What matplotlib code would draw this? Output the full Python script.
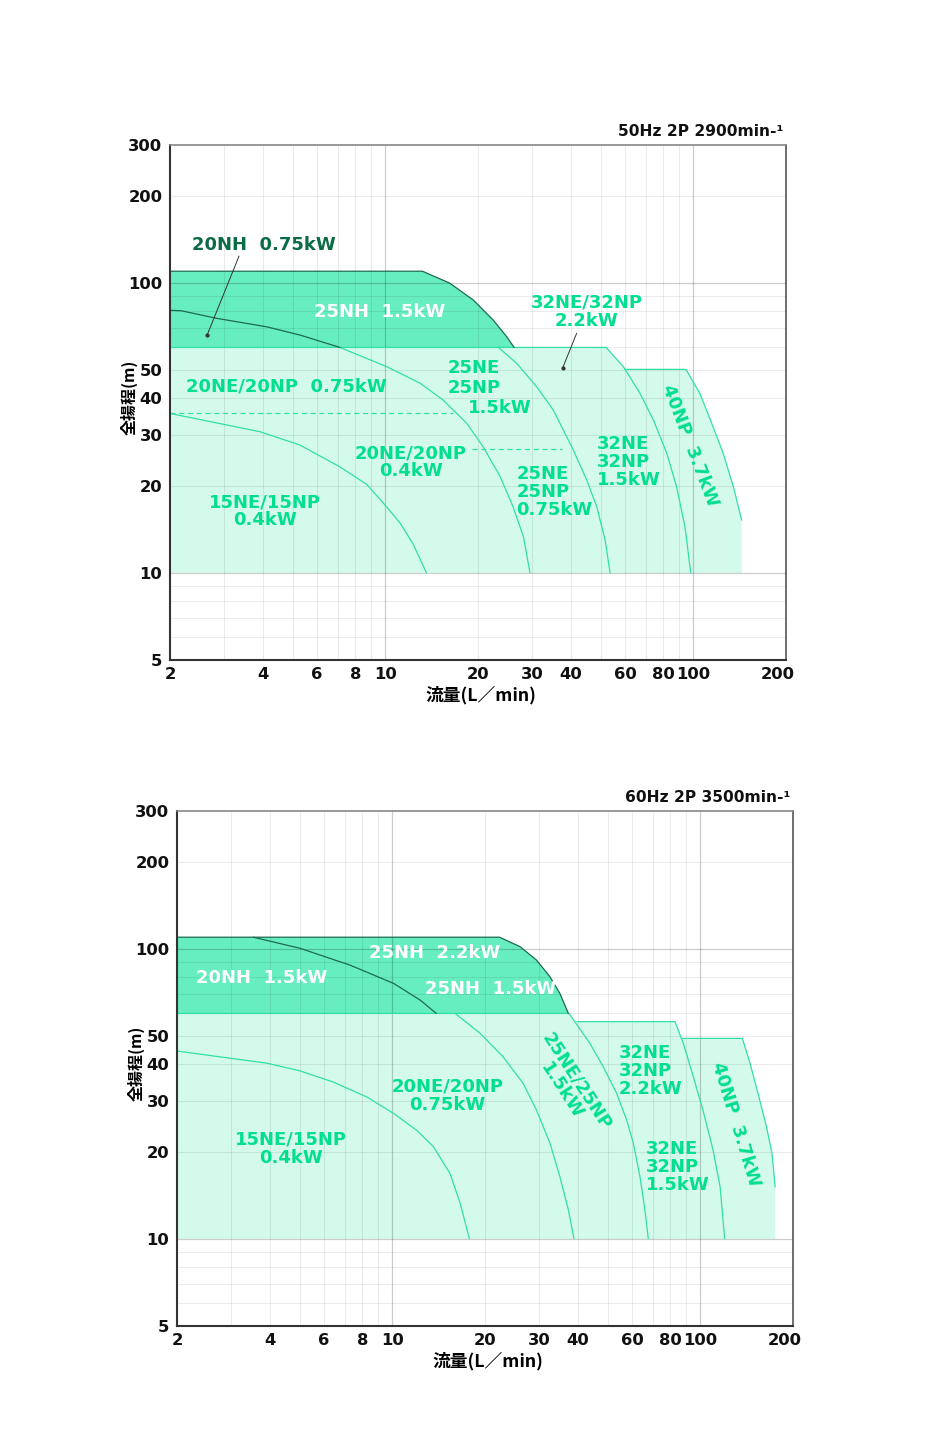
import matplotlib

matplotlib.use("Agg")
import matplotlib.pyplot as plt
import matplotlib.transforms as mtransforms
from matplotlib.patches import Polygon
from matplotlib.ticker import FixedLocator, FixedFormatter, NullLocator

plt.rcParams["font.family"] = ["DejaVu Sans"]
CJK = ["Noto Sans CJK JP", "DejaVu Sans"]

# ---------------- 50 Hz 2P 2900 min-1 ----------------
nh25_50_x = [2, 13.2, 16.2, 19.3, 22.4, 24.8, 26.2]
nh25_50_y = [110, 110, 100, 87.5, 74.6, 65.3, 60]
nh20_50_x = [2, 2.18, 2.84, 4.12, 5.29, 7.13]
nh20_50_y = [80.6, 80.3, 75.6, 70.7, 66.2, 60]
ne20_075_50_x = [7.13, 10.1, 11.2, 13.0, 15.4, 18.4, 20.8, 23.6, 26.0, 28.1, 29.5]
ne20_075_50_y = [60, 51.5, 48.8, 45.1, 39.5, 32.8, 27.2, 21.5, 16.9, 13.3, 10]
ne25_15_50_x = [23.3, 26.7, 31.0, 35.1, 38.8, 40.8, 45.1, 48.6, 51.7, 53.7]
ne25_15_50_y = [60, 52.9, 43.9, 36.5, 29.5, 26.5, 20.9, 16.9, 13.0, 10]
ne32_22_50_x = [2, 52.1, 59.3, 67.1, 74.2, 82.0, 88.3, 94.0, 98.1]
ne32_22_50_y = [60, 60, 51.5, 41.7, 33.7, 25.9, 19.8, 14.4, 10]
np40_50_x = [60.0, 94.7, 105, 116, 125, 135, 143.6]
np40_50_y = [50.4, 50.4, 41.7, 31.9, 25.9, 19.8, 15.2]
ne15_04_50_x = [2, 3.92, 5.29, 7.13, 8.70, 10.1, 11.2, 12.3, 13.6]
ne15_04_50_y = [35.5, 30.7, 27.6, 23.2, 20.2, 16.9, 14.8, 12.6, 10]
dash_50 = [((2, 16.6), 35.5), ((19.1, 37.5), 26.7)]

# ---------------- 60 Hz 2P 3500 min-1 -------------
nh25_60_x = [2, 22.3, 26.0, 29.4, 32.5, 35.0, 37.3]
nh25_60_y = [110, 110, 102, 91.7, 80.3, 70.4, 60]
nh20_60_x = [3.54, 5.02, 7.29, 10.1, 12.3, 13.9]
nh20_60_y = [110, 100.7, 88.1, 76.2, 66.8, 60]
ne20_075_60_x = [16.0, 19.3, 22.9, 26.6, 29.4, 32.5, 35.0, 37.3, 38.9]
ne20_075_60_y = [60, 51.2, 42.5, 34.4, 27.8, 21.4, 16.4, 12.6, 10]
ne25_15_60_x = [2, 37.5, 43.8, 48.4, 53.5, 57.7, 60.6, 63.7, 66.1, 67.8]
ne25_15_60_y = [60, 60, 47.3, 39.3, 31.8, 25.7, 21.4, 16.4, 12.6, 10]
ne32_22_60_x = [39.7, 82.8, 88.1, 94.9, 102, 110, 116, 120]
ne32_22_60_y = [56.2, 56.2, 47.3, 36.3, 27.8, 20.3, 15.1, 10]
np40_60_x = [87.0, 137, 145, 154, 164, 171, 175]
np40_60_y = [49.2, 49.2, 40.4, 31.8, 24.4, 19.7, 15.1]
ne15_04_60_x = [2, 3.92, 5.02, 6.42, 8.26, 10.1, 12.0, 13.6, 15.4, 16.6, 17.8]
ne15_04_60_y = [44.5, 40.4, 38.0, 34.8, 30.9, 27.1, 23.7, 20.8, 16.8, 13.3, 10]

xticks = [2, 4, 6, 8, 10, 20, 30, 40, 60, 80, 100, 200]
yticks = [5, 10, 20, 30, 40, 50, 100, 200, 300]
xgrid_minor = [3, 4, 5, 6, 7, 8, 9, 20, 30, 40, 50, 60, 70, 80, 90]
ygrid_minor = [6, 7, 8, 9, 20, 30, 40, 50, 60, 70, 80, 90, 200]
grid_major = [10, 100]

LIGHT = "#d4faeb"
MID = "#66eec0"
LINE = "#30e0a6"
TEXT = "#00df8e"
DARK = "#1e6b4e"
DARKTXT = "#0b6b45"


def region(ax, xs, ys, color, base=10):
    pts = [(xs[0], base)] + list(zip(xs, ys)) + [(xs[-1], base)]
    ax.add_patch(Polygon(pts, closed=True, facecolor=color,
                         edgecolor="none", zorder=0.2))


def setup(ax, title):
    ax.set_xscale("log")
    ax.set_yscale("log")
    ax.set_xlim(2, 200)
    ax.set_ylim(5, 300)
    ax.xaxis.set_major_locator(FixedLocator(xticks))
    ax.xaxis.set_major_formatter(FixedFormatter([str(t) for t in xticks]))
    ax.yaxis.set_major_locator(FixedLocator(yticks))
    ax.yaxis.set_major_formatter(FixedFormatter([str(t) for t in yticks]))
    ax.xaxis.set_minor_locator(NullLocator())
    ax.yaxis.set_minor_locator(NullLocator())
    ax.tick_params(length=0, labelsize=11.8, colors="#111111")
    ax.tick_params(axis="x", pad=5)
    ax.tick_params(axis="y", pad=5.5)
    for lab in ax.get_xticklabels() + ax.get_yticklabels():
        lab.set_fontweight("bold")
    for v in xgrid_minor:
        ax.axvline(v, color="black", alpha=0.08, lw=0.8, zorder=0.5)
    for v in ygrid_minor:
        ax.axhline(v, color="black", alpha=0.08, lw=0.8, zorder=0.5)
    for v in grid_major:
        ax.axvline(v, color="black", alpha=0.2, lw=0.9, zorder=0.5)
        ax.axhline(v, color="black", alpha=0.2, lw=0.9, zorder=0.5)
    for side, c, w in (("left", "#333333", 1.5), ("bottom", "#333333", 1.5),
                       ("top", "#888888", 1.2), ("right", "#555555", 1.2)):
        ax.spines[side].set_color(c)
        ax.spines[side].set_linewidth(w)
        ax.spines[side].set_zorder(6)
    ax.set_xlabel("流量(L／min)", family=CJK, fontsize=12.8, fontweight="bold",
                  va="center")
    ax.xaxis.set_label_coords(0.505, -0.068)
    ax.set_ylabel("全揚程(m)", family=CJK, fontsize=11.5, fontweight="bold",
                  va="center", ha="center")
    ax.yaxis.set_label_coords(-0.066, 0.51)
    ax.text(0.996, 1.026, title, transform=ax.transAxes, ha="right",
            va="center", fontsize=11.2, fontweight="bold", color="#111111")
    # nudge the last x tick label inwards like the original
    last = ax.get_xticklabels()[-1]
    last.set_transform(last.get_transform() + mtransforms.ScaledTranslation(
        -0.085, 0, ax.figure.dpi_scale_trans))


def labels(ax, items):
    for s, x, y, ha, c, rot in items:
        ax.text(x, y, s, ha=ha, va="center", color=c, rotation=rot,
                rotation_mode="anchor", fontsize=13, fontweight="bold",
                linespacing=1.0, zorder=4)


def curve(ax, xs, ys, color, **kw):
    ax.plot(xs, ys, color=color, lw=0.9, solid_joinstyle="round",
            solid_capstyle="round", **kw)


def pointer(ax, x1, y1, x2, y2):
    ax.plot([x1, x2], [y1, y2], color="#333333", lw=0.7, zorder=4)
    ax.plot([x2], [y2], "o", ms=2, color="#333333", zorder=4)


fig = plt.figure(figsize=(9.49, 14.45), dpi=100)
ax1 = fig.add_axes([0.17914, 0.54325, 0.64910, 0.35640])
ax2 = fig.add_axes([0.18651, 0.08235, 0.64910, 0.35640])

# ---- top chart ----
setup(ax1, "50Hz 2P 2900min-¹")
region(ax1, ne32_22_50_x, ne32_22_50_y, LIGHT)
region(ax1, np40_50_x + [np40_50_x[-1]], np40_50_y + [10], LIGHT)
region(ax1, nh25_50_x, nh25_50_y, MID, base=60)
for xs, ys in ((ne32_22_50_x, ne32_22_50_y), (np40_50_x, np40_50_y),
               (ne25_15_50_x, ne25_15_50_y), (ne20_075_50_x, ne20_075_50_y),
               (ne15_04_50_x, ne15_04_50_y)):
    curve(ax1, xs, ys, LINE, zorder=2)
for (xa, xb), y in dash_50:
    ax1.plot([xa, xb], [y, y], color=LINE, lw=0.9, ls=(0, (4, 3)), zorder=2)
curve(ax1, nh25_50_x, nh25_50_y, DARK, zorder=2.1)
curve(ax1, nh20_50_x, nh20_50_y, DARK, zorder=2.1)
pointer(ax1, 3.35, 124, 2.64, 66.2)
pointer(ax1, 41.8, 67.1, 37.7, 51.1)
labels(ax1, [
    ("20NH  0.75kW", 2.35, 135, "left", DARKTXT, 0),
    ("25NH  1.5kW", 9.55, 79.4, "center", "white", 0),
    ("32NE/32NP\n2.2kW", 45.1, 79.6, "center", TEXT, 0),
    ("25NE", 15.95, 51.1, "left", TEXT, 0),
    ("25NP", 15.95, 43.5, "left", TEXT, 0),
    ("1.5kW", 18.6, 37.1, "left", TEXT, 0),
    ("20NE/20NP  0.75kW", 2.25, 44.0, "left", TEXT, 0),
    ("20NE/20NP\n0.4kW", 12.1, 24.1, "center", TEXT, 0),
    ("15NE/15NP\n0.4kW", 4.08, 16.3, "center", TEXT, 0),
    ("25NE\n25NP\n0.75kW", 26.6, 19.0, "left", TEXT, 0),
    ("32NE\n32NP\n1.5kW", 48.6, 24.1, "left", TEXT, 0),
    ("40NP  3.7kW", 97.5, 27.6, "center", TEXT, -69),
])

# ---- bottom chart ----
setup(ax2, "60Hz 2P 3500min-¹")
region(ax2, ne25_15_60_x, ne25_15_60_y, LIGHT)
region(ax2, ne32_22_60_x, ne32_22_60_y, LIGHT)
region(ax2, np40_60_x + [np40_60_x[-1]], np40_60_y + [10], LIGHT)
region(ax2, nh25_60_x, nh25_60_y, MID, base=60)
for xs, ys in ((ne25_15_60_x, ne25_15_60_y), (ne32_22_60_x, ne32_22_60_y),
               (np40_60_x, np40_60_y), (ne20_075_60_x, ne20_075_60_y),
               (ne15_04_60_x, ne15_04_60_y)):
    curve(ax2, xs, ys, LINE, zorder=2)
curve(ax2, nh25_60_x, nh25_60_y, DARK, zorder=2.1)
curve(ax2, nh20_60_x, nh20_60_y, DARK, zorder=2.1)
labels(ax2, [
    ("25NH  2.2kW", 13.7, 97.1, "center", "white", 0),
    ("20NH  1.5kW", 3.77, 79.3, "center", "white", 0),
    ("25NH  1.5kW", 20.8, 72.9, "center", "white", 0),
    ("20NE/20NP\n0.75kW", 15.1, 31.2, "center", TEXT, 0),
    ("15NE/15NP\n0.4kW", 4.69, 20.5, "center", TEXT, 0),
    ("25NE/25NP\n1.5kW", 37.6, 33.6, "center", TEXT, -57),
    ("32NE\n32NP\n2.2kW", 54.2, 38.0, "left", TEXT, 0),
    ("32NE\n32NP\n1.5kW", 66.6, 17.7, "left", TEXT, 0),
    ("40NP  3.7kW", 130, 24.9, "center", TEXT, -73),
])

fig.savefig("out.png", dpi=100)
